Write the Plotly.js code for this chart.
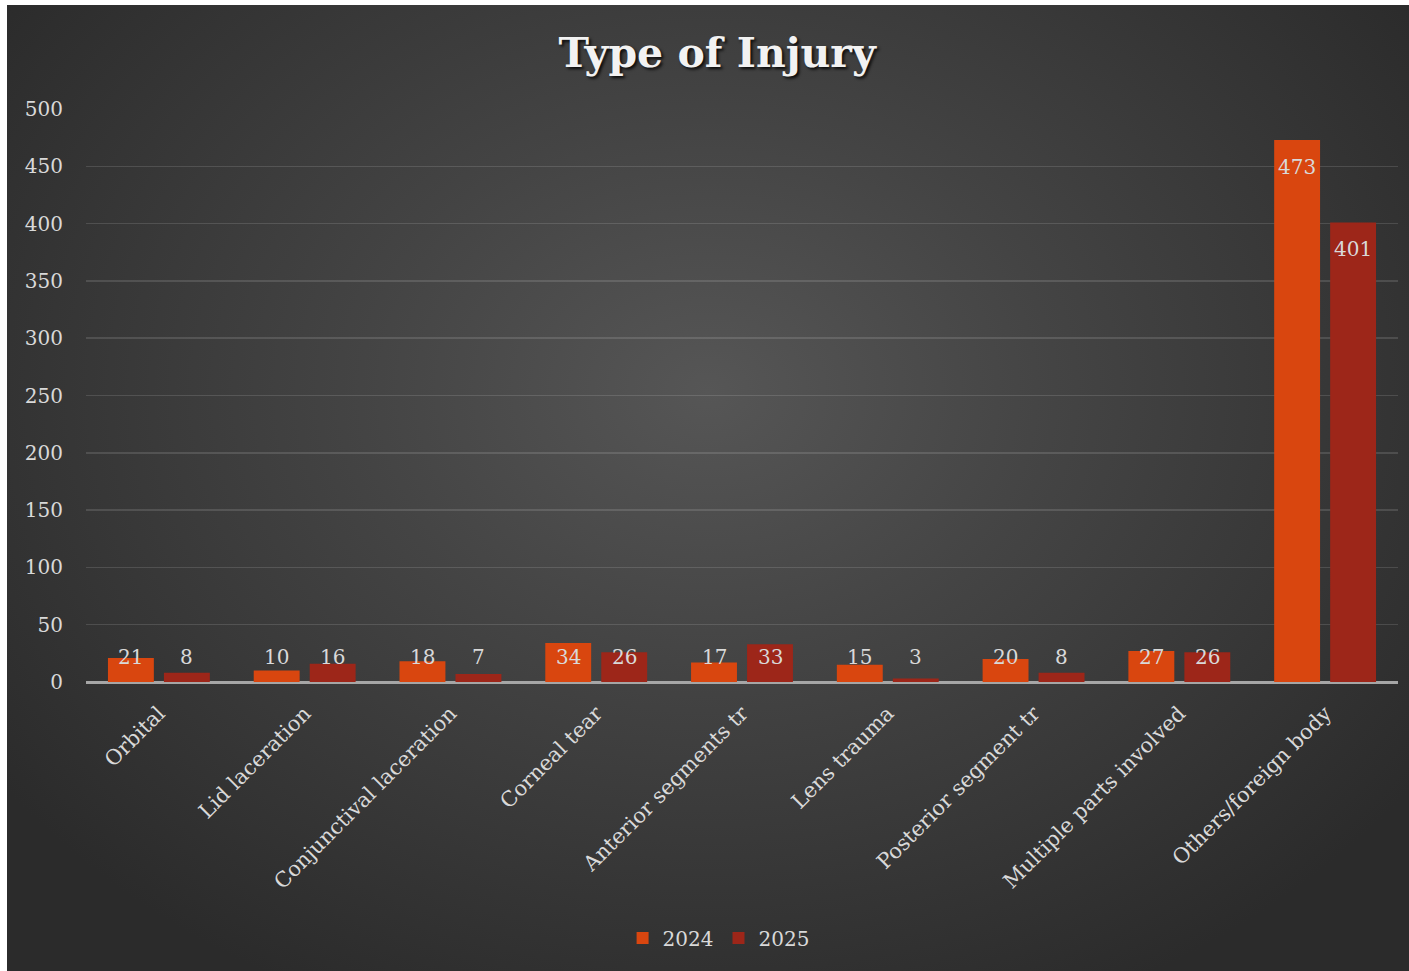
<!DOCTYPE html>
<html>
<head>
<meta charset="utf-8">
<script src="https://cdn.plot.ly/plotly-3.0.1.min.js"></script>
<style>
  html, body { margin: 0; padding: 0; background: #ffffff; width: 1409px; height: 971px; overflow: hidden; }
  #bg { position: absolute; left: 7px; top: 5px; width: 1402px; height: 966px;
        background: radial-gradient(ellipse 62% 70% at 50% 40%, #565656 0%, #444444 40%, #2b2b2b 100%); }
  #chart { position: absolute; left: 0; top: 0; width: 1409px; height: 971px; }
</style>
</head>
<body>
<div id="bg"></div>
<div id="chart"></div>
<script>
const categories = ["Orbital", "Lid laceration", "Conjunctival laceration", "Corneal tear",
  "Anterior segments tr", "Lens trauma", "Posterior segment tr", "Multiple parts involved",
  "Others/foreign body"];
const values2024 = [21, 10, 18, 34, 17, 15, 20, 27, 473];
const values2025 = [8, 16, 7, 26, 33, 3, 8, 26, 401];
const seriesNames = ["2024", "2025"];
const yTicks = [0, 50, 100, 150, 200, 250, 300, 350, 400, 450, 500];

const FONT = "DejaVu Serif, serif";
const TXT = "#d9d9d9";
const colors = ["#d9460f", "#9d2619"];

const traces = [
  { type: "bar", name: seriesNames[0], x: categories, y: values2024,
    marker: { color: colors[0], line: { width: 0 } }, hoverinfo: "x+y" },
  { type: "bar", name: seriesNames[1], x: categories, y: values2025,
    marker: { color: colors[1], line: { width: 0 } }, hoverinfo: "x+y" }
];

// data labels: inside end, but kept above the baseline for short bars
const annotations = [];
[values2024, values2025].forEach((vals, si) => {
  vals.forEach((v, i) => {
    const tall = v > 45;
    annotations.push({
      x: categories[i], y: tall ? v : 0, xref: "x", yref: "y",
      text: String(v), showarrow: false,
      xshift: si === 0 ? -28 : 28,
      yshift: tall ? -27 : 25,
      yanchor: "middle",
      font: { family: FONT, size: 20, color: TXT }
    });
  });
});

const layout = {
  width: 1409, height: 971,
  paper_bgcolor: "rgba(0,0,0,0)",
  plot_bgcolor: "rgba(0,0,0,0)",
  margin: { l: 86, r: 11, t: 109, b: 289 },
  barmode: "group",
  bargap: 0.232,
  bargroupgap: 0.18,
  title: {
    text: "Type of Injury",
    x: 0.509, xref: "container", xanchor: "center",
    y: 1 - 53 / 971, yref: "container", yanchor: "middle",
    font: { family: FONT, size: 41, weight: 700, color: "#f2f2f2",
            shadow: "2px 2px 3px rgba(0,0,0,0.85)" }
  },
  xaxis: {
    type: "category",
    tickangle: -45,
    tickfont: { family: FONT, size: 21, color: TXT },
    showgrid: false, showline: false, ticks: "",
    ticklabelstandoff: 14,
    automargin: false
  },
  yaxis: {
    range: [0, 500],
    tickvals: yTicks,
    ticktext: yTicks.map(String),
    tickfont: { family: FONT, size: 20, color: TXT },
    showgrid: true, gridcolor: "rgba(255,255,255,0.13)", gridwidth: 1.5,
    zeroline: true, zerolinecolor: "#a6a6a6", zerolinewidth: 3,
    showline: false, ticks: "", ticklabelstandoff: 22,
    automargin: false
  },
  showlegend: true,
  legend: {
    orientation: "h",
    x: 0.51, xref: "container", xanchor: "center",
    y: 1 - 938 / 971, yref: "container", yanchor: "middle",
    font: { family: FONT, size: 20, color: TXT },
    bgcolor: "rgba(0,0,0,0)",
    itemwidth: 30,
    traceorder: "normal"
  },
  annotations: annotations
};

Plotly.newPlot("chart", traces, layout, { displayModeBar: false, staticPlot: true });
</script>
</body>
</html>
